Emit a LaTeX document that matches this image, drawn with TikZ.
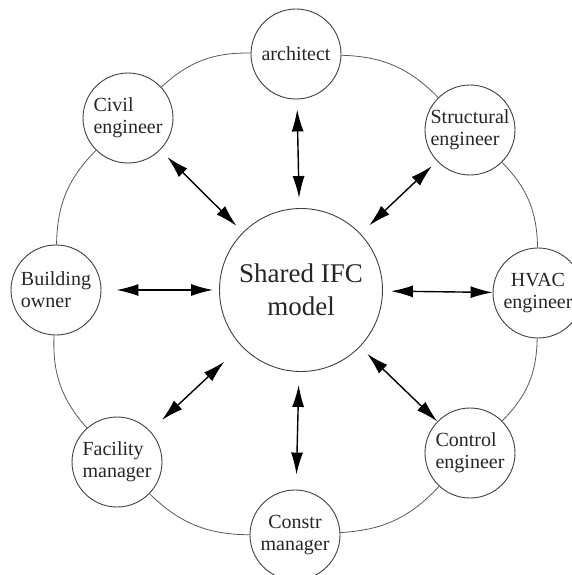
\documentclass[tikz,border=0pt]{standalone}
\usepackage{fontspec}
\setmainfont{Liberation Serif}
\usetikzlibrary{arrows.meta}
\begin{document}
\begin{tikzpicture}[x=1pt,y=1pt,
  role/.style={circle,draw=black!75,line width=0.9pt,fill=white,minimum size=90pt,inner sep=0pt,font=\fontsize{20}{22}\selectfont,text=black!85,align=left},
  hub/.style={circle,draw=black!75,line width=0.9pt,fill=white,minimum size=163pt,inner sep=0pt,font=\fontsize{27}{33}\selectfont,text=black!85,align=center},
  ring/.style={draw=black!65,line width=0.8pt},
  link/.style={line width=1.4pt,{Latex[length=22pt,width=12pt]}-{Latex[length=22pt,width=12pt]}}]
\useasboundingbox (0,0) rectangle (572,-575);
\node[hub] (ctr) at (301,-290) {Shared IFC\\model};
\node[role] (arch) at (296,-54) {architect};
\node[role] (civil) at (128,-118) {Civil\\engineer};
\node[role] (bldg) at (56,-290) {Building\\owner};
\node[role] (fac) at (117,-462) {Facility\\manager};
\node[role,align=center] (constr) at (295,-535) {Constr\\manager};
\node[role] (ctrl) at (470,-453) {Control\\engineer};
\node[role,align=center] (hvac) at (538,-293) {HVAC\\engineer};
\node[role] (struct) at (470,-130) {Structural\\engineer};
% ring
\draw[ring] (arch) to[bend right=22] (civil);
\draw[ring] (civil) to[bend right=22] (bldg);
\draw[ring] (bldg) to[bend right=22] (fac);
\draw[ring] (fac) to[bend right=22] (constr);
\draw[ring] (constr) to[bend right=22] (ctrl);
\draw[ring] (ctrl) to[bend right=22] (hvac);
\draw[ring] (hvac) to[bend right=22] (struct);
\draw[ring] (struct) to[bend right=22] (arch);
% links
\draw[link,shorten <=10pt,shorten >=10pt] (arch) -- (ctr);
\draw[link,shorten <=15pt,shorten >=13pt] (constr) -- (ctr);
\draw[link,shorten <=15pt,shorten >=6pt] (bldg) -- (ctr);
\draw[link,shorten <=0pt,shorten >=8pt] (hvac) -- (ctr);
\draw[link,shorten <=10pt,shorten >=9pt] (civil) -- (ctr);
\draw[link,shorten <=7pt,shorten >=12pt] (struct) -- (ctr);
\draw[link,shorten <=16pt,shorten >=23pt] (fac) -- (ctr);
\draw[link,shorten <=0pt,shorten >=10pt] (ctrl) -- (ctr);
\end{tikzpicture}
\end{document}
